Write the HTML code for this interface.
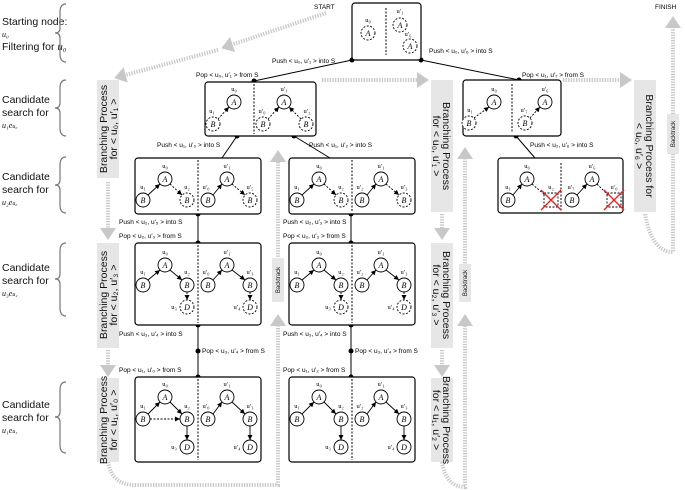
<!DOCTYPE html>
<html><head><meta charset="utf-8"><style>
body{margin:0;background:#fff}
svg{display:block;font-family:"Liberation Sans",sans-serif}
.bx{fill:#fff;stroke:#000;stroke-width:1.2}
.n{fill:#fff;stroke:#000;stroke-width:.9}
.d{fill:#fff;stroke:#000;stroke-width:.9;stroke-dasharray:2 1.5}
.l{font-family:"Liberation Serif",serif;font-style:italic;font-size:8px;text-anchor:middle}
.s{font-family:"Liberation Serif",serif;font-size:6.5px;text-anchor:middle}
.t{font-size:6.5px}
.e{stroke:#000;stroke-width:.9;fill:none}
.ed{stroke:#000;stroke-width:.9;fill:none;stroke-dasharray:2 1.5}
.dv{stroke:#000;stroke-width:1;stroke-dasharray:2 1.5}
.g{stroke:#c8c8c8;stroke-width:4;fill:none;stroke-dasharray:1.3 1.3}
.gb{fill:#e6e6e6}
.bt{font-size:10.5px;fill:#111}
.lb{font-size:10.5px;fill:#111}
</style></head><body>
<svg width="685" height="490" viewBox="0 0 685 490" xmlns="http://www.w3.org/2000/svg">
<defs>
<marker id="a" markerWidth="6" markerHeight="6" refX="5" refY="3" orient="auto" markerUnits="userSpaceOnUse"><path d="M0,0.5 L5,3 L0,5.5z" fill="#000"/></marker>
<marker id="ga" markerWidth="4" markerHeight="4" refX="2" refY="2" orient="auto" markerUnits="strokeWidth"><path d="M0,0 L3,2 L0,4z" fill="#c8c8c8"/></marker>
</defs>

<!-- left labels -->
<g class="lb">
<text x="2" y="25">Starting node:</text><text x="2" y="37" font-family="Liberation Serif" font-style="italic" font-size="8">u₀</text><text x="2" y="50">Filtering for <tspan font-family="Liberation Serif" font-style="italic">u₀</tspan></text>
<text x="2" y="103">Candidate</text><text x="2" y="116">search for</text><text x="2" y="128" font-family="Liberation Serif" font-style="italic" font-size="8">u₁e<tspan font-size="6">u₀</tspan></text>
<text x="2" y="180">Candidate</text><text x="2" y="193">search for</text><text x="2" y="205" font-family="Liberation Serif" font-style="italic" font-size="8">u₂e<tspan font-size="6">u₀</tspan></text>
<text x="2" y="271">Candidate</text><text x="2" y="284">search for</text><text x="2" y="296" font-family="Liberation Serif" font-style="italic" font-size="8">u₃e<tspan font-size="6">u₂</tspan></text>
<text x="2" y="408">Candidate</text><text x="2" y="421">search for</text><text x="2" y="433" font-family="Liberation Serif" font-style="italic" font-size="8">u₁e<tspan font-size="6">u₃</tspan></text>
</g>
<g fill="none" stroke="#777" stroke-width="1.2">
<path d="M66,4 Q60,4 60,12 L60,28 Q60,33 55,33 Q60,33 60,38 L60,54 Q60,62 66,62"/>
<path d="M66,80 Q60,80 60,88 L60,103 Q60,108 55,108 Q60,108 60,113 L60,128 Q60,136 66,136"/>
<path d="M66,157 Q60,157 60,165 L60,180 Q60,185 55,185 Q60,185 60,190 L60,205 Q60,213 66,213"/>
<path d="M66,243 Q60,243 60,251 L60,274 Q60,279 55,279 Q60,279 60,284 L60,308 Q60,316 66,316"/>
<path d="M66,382 Q60,382 60,390 L60,412 Q60,417 55,417 Q60,417 60,422 L60,445 Q60,453 66,453"/>
</g>

<!-- grey flow -->
<g class="g">
<path d="M326,13 L225,47" marker-end="url(#ga)"/>
<path d="M218,50 L118,77" marker-end="url(#ga)"/>
<path d="M322,80 L425,80" marker-end="url(#ga)"/>
<path d="M563,80 L628,80" marker-end="url(#ga)"/>
<path d="M108,182 L108,236" marker-end="url(#ga)"/>
<path d="M108,350 L108,373" marker-end="url(#ga)"/>
<path d="M442,214 L442,236" marker-end="url(#ga)"/>
<path d="M442,350 L442,373" marker-end="url(#ga)"/>
<path d="M108,462 Q112,485 135,485 L278,485 L278,318" marker-end="url(#ga)"/>
<path d="M278,262 L278,154" marker-end="url(#ga)"/>
<path d="M442,462 Q446,487 465,487 L465,318" marker-end="url(#ga)"/>
<path d="M465,266 L465,151" marker-end="url(#ga)"/>
<path d="M645,214 Q652,252 673,252 L673,154"/>
<path d="M673,114 L673,20" marker-end="url(#ga)"/>
</g>
<!-- grey bars -->
<rect class="gb" x="97" y="80" width="22" height="98"/>
<rect class="gb" x="97" y="243" width="22" height="105"/>
<rect class="gb" x="97" y="378" width="22" height="84"/>
<rect class="gb" x="431" y="80" width="22" height="132"/>
<rect class="gb" x="431" y="243" width="22" height="105"/>
<rect class="gb" x="431" y="378" width="22" height="84"/>
<rect class="gb" x="634" y="80" width="22" height="132"/>
<rect class="gb" x="272" y="258" width="12" height="44"/>
<rect class="gb" x="459" y="264" width="12" height="38"/>
<rect class="gb" x="667" y="114" width="12" height="40"/>
<g class="bt">
<text transform="translate(107,129) rotate(-90)" text-anchor="middle">Branching Process</text>
<text transform="translate(117,129) rotate(-90)" text-anchor="middle">for &lt; u₀, u′₁ &gt;</text>
<text transform="translate(107,295) rotate(-90)" text-anchor="middle">Branching Process</text>
<text transform="translate(117,295) rotate(-90)" text-anchor="middle">for &lt; u₂, u′₃ &gt;</text>
<text transform="translate(107,420) rotate(-90)" text-anchor="middle">Branching Process</text>
<text transform="translate(117,420) rotate(-90)" text-anchor="middle">for &lt; u₁, u′₀ &gt;</text>
<text transform="translate(443,146) rotate(90)" text-anchor="middle">Branching Process</text>
<text transform="translate(433,146) rotate(90)" text-anchor="middle">for &lt; u₀, u′₁ &gt;</text>
<text transform="translate(443,295) rotate(90)" text-anchor="middle">Branching Process</text>
<text transform="translate(433,295) rotate(90)" text-anchor="middle">for &lt; u₂, u′₃ &gt;</text>
<text transform="translate(443,420) rotate(90)" text-anchor="middle">Branching Process</text>
<text transform="translate(433,420) rotate(90)" text-anchor="middle">for &lt; u₁, u′₂ &gt;</text>
<text transform="translate(646,146) rotate(90)" text-anchor="middle">Branching Process for</text>
<text transform="translate(636,146) rotate(90)" text-anchor="middle">&lt; u₀, u′₆ &gt;</text>
</g>
<g font-size="6px" fill="#111" text-anchor="middle">
<text transform="translate(280,280) rotate(-90)">Backtrack</text>
<text transform="translate(467,283) rotate(-90)">Backtrack</text>
<text transform="translate(675,134) rotate(-90)">Backtrack</text>
</g>
<text x="314" y="9" font-size="6.5">START</text>
<text x="655" y="9" font-size="6.5">FINISH</text>

<!-- connectors -->
<g stroke="#000" stroke-width="1" fill="none">
<path d="M352,60 L254,81"/><path d="M421,60 L519,80"/>
<path d="M237,136 L222,158"/><path d="M294,136 L330,158"/>
<path d="M516,136 L535,158"/>
<path d="M198,214 L198,243"/><path d="M351,214 L351,243"/>
<path d="M198,325 L198,377"/><path d="M351,325 L351,377"/>
</g>
<g fill="#000">
<circle cx="352" cy="60" r="2.5"/><circle cx="421" cy="60" r="2.5"/>
<circle cx="254" cy="81" r="2.5"/><circle cx="519" cy="80" r="2.5"/>
<circle cx="237" cy="136" r="2.5"/><circle cx="294" cy="136" r="2.5"/><circle cx="516" cy="136" r="2.5"/>
<circle cx="198" cy="214" r="2.5"/><circle cx="198" cy="243" r="2.5"/>
<circle cx="351" cy="214" r="2.5"/><circle cx="351" cy="243" r="2.5"/>
<circle cx="198" cy="325" r="2.5"/><circle cx="198" cy="351" r="2.5"/><circle cx="198" cy="377" r="2.5"/>
<circle cx="351" cy="325" r="2.5"/><circle cx="351" cy="351" r="2.5"/><circle cx="351" cy="377" r="2.5"/>
</g>
<g class="t">
<text x="272" y="63">Push &lt; u₀, u′₁ &gt; into S</text>
<text x="429" y="53">Push &lt; u₀, u′₆ &gt; into S</text>
<text x="196" y="77">Pop &lt; u₀, u′₁ &gt; from S</text>
<text x="522" y="77">Pop &lt; u₁, u′₇ &gt; from S</text>
<text x="157" y="147">Push &lt; u₁, u′₀ &gt; into S</text>
<text x="309" y="147">Push &lt; u₁, u′₂ &gt; into S</text>
<text x="530" y="147">Push &lt; u₂, u′₆ &gt; into S</text>
<text x="119" y="224">Push &lt; u₂, u′₅ &gt; into S</text>
<text x="119" y="238">Pop &lt; u₂, u′₃ &gt; from S</text>
<text x="283" y="224">Push &lt; u₂, u′₃ &gt; into S</text>
<text x="283" y="238">Pop &lt; u₂, u′₃ &gt; from S</text>
<text x="119" y="336">Push &lt; u₃, u′₄ &gt; into S</text>
<text x="202" y="353">Pop &lt; u₃, u′₄ &gt; from S</text>
<text x="119" y="372">Pop &lt; u₁, u′₀ &gt; from S</text>
<text x="283" y="336">Push &lt; u₃, u′₄ &gt; into S</text>
<text x="355" y="353">Pop &lt; u₃, u′₄ &gt; from S</text>
<text x="283" y="372">Pop &lt; u₁, u′₂ &gt; from S</text>
</g>

<!-- top box -->
<rect class="bx" x="352" y="3" width="69" height="57" rx="3"/>
<line class="dv" x1="386" y1="8" x2="386" y2="55"/>
<circle class="d" cx="368" cy="33" r="7"/><text class="l" x="368" y="36">A</text><text class="s" x="368" y="22">u₀</text>
<circle class="d" cx="400" cy="25" r="7"/><text class="l" x="400" y="28">A</text><text class="s" x="400" y="13">u′₁</text>
<circle class="d" cx="410" cy="46" r="7"/><text class="l" x="410" y="49">A</text><text class="s" x="408" y="36">u′₆</text>

<!-- level2 box1 -->
<rect class="bx" x="205" y="82" width="111" height="54" rx="3"/>
<line class="dv" x1="254" y1="84" x2="254" y2="134"/>
<circle class="n" cx="234" cy="102" r="7"/><text class="l" x="234" y="105">A</text><text class="s" x="234" y="91">u₀</text>
<circle class="d" cx="213" cy="124" r="7"/><text class="l" x="213" y="127">B</text><text class="s" x="212" y="113">u₁</text>
<path class="ed" d="M218,119 L229,107" marker-end="url(#a)"/>
<circle class="n" cx="284" cy="102" r="7"/><text class="l" x="284" y="105">A</text><text class="s" x="284" y="91">u′₁</text>
<circle class="d" cx="263" cy="124" r="7"/><text class="l" x="263" y="127">B</text><text class="s" x="262" y="113">u′₀</text>
<circle class="d" cx="306" cy="124" r="7"/><text class="l" x="306" y="127">B</text><text class="s" x="307" y="113">u′₂</text>
<path class="ed" d="M268,119 L279,107" marker-end="url(#a)"/>
<path class="ed" d="M301,119 L289,107" marker-end="url(#a)"/>

<!-- level2 box2 -->
<rect class="bx" x="463" y="80" width="98" height="56" rx="3"/>
<line class="dv" x1="512" y1="84" x2="512" y2="133"/>
<circle class="n" cx="494" cy="102" r="7"/><text class="l" x="494" y="105">A</text><text class="s" x="494" y="91">u₀</text>
<circle class="d" cx="469" cy="123" r="7"/><text class="l" x="469" y="126">B</text><text class="s" x="470" y="112">u₁</text>
<path class="ed" d="M474,118 L489,107" marker-end="url(#a)"/>
<circle class="n" cx="545" cy="102" r="7"/><text class="l" x="545" y="105">A</text><text class="s" x="545" y="91">u′₆</text>
<circle class="d" cx="525" cy="123" r="7"/><text class="l" x="525" y="126">B</text><text class="s" x="524" y="112">u′₇</text>
<path class="ed" d="M530,118 L540,107" marker-end="url(#a)"/>

<!-- level3 box a -->
<rect class="bx" x="135" y="158" width="126" height="56" rx="3"/>
<line class="dv" x1="198" y1="160" x2="198" y2="212"/>
<circle class="n" cx="165" cy="179" r="7"/><text class="l" x="165" y="182">A</text><text class="s" x="165" y="168">u₀</text>
<circle class="n" cx="143" cy="200" r="7"/><text class="l" x="143" y="203">B</text><text class="s" x="143" y="189">u₁</text>
<circle class="d" cx="187" cy="200" r="7"/><text class="l" x="187" y="203">B</text><text class="s" x="187" y="189">u₂</text>
<path class="e" d="M148,195 L160,184" marker-end="url(#a)"/><path class="ed" d="M170,184 L182,195" marker-end="url(#a)"/>
<circle class="n" cx="227" cy="179" r="7"/><text class="l" x="227" y="182">A</text><text class="s" x="227" y="168">u′₁</text>
<circle class="n" cx="208" cy="200" r="7"/><text class="l" x="208" y="203">B</text><text class="s" x="206" y="189">u′₀</text>
<circle class="d" cx="250" cy="200" r="7"/><text class="l" x="250" y="203">B</text><text class="s" x="250" y="189">u′₅</text>
<path class="e" d="M213,195 L222,184" marker-end="url(#a)"/><path class="ed" d="M232,184 L245,195" marker-end="url(#a)"/>

<!-- level3 box b -->
<rect class="bx" x="289" y="158" width="126" height="56" rx="3"/>
<line class="dv" x1="352" y1="160" x2="352" y2="212"/>
<circle class="n" cx="319" cy="179" r="7"/><text class="l" x="319" y="182">A</text><text class="s" x="319" y="168">u₀</text>
<circle class="n" cx="297" cy="200" r="7"/><text class="l" x="297" y="203">B</text><text class="s" x="297" y="189">u₁</text>
<circle class="d" cx="341" cy="200" r="7"/><text class="l" x="341" y="203">B</text><text class="s" x="341" y="189">u₂</text>
<path class="e" d="M302,195 L314,184" marker-end="url(#a)"/><path class="ed" d="M324,184 L336,195" marker-end="url(#a)"/>
<circle class="n" cx="381" cy="179" r="7"/><text class="l" x="381" y="182">A</text><text class="s" x="381" y="168">u′₁</text>
<circle class="n" cx="362" cy="200" r="7"/><text class="l" x="362" y="203">B</text><text class="s" x="360" y="189">u′₂</text>
<circle class="d" cx="404" cy="200" r="7"/><text class="l" x="404" y="203">B</text><text class="s" x="404" y="189">u′₃</text>
<path class="e" d="M367,195 L376,184" marker-end="url(#a)"/><path class="ed" d="M386,184 L399,195" marker-end="url(#a)"/>

<!-- level3 box c -->
<rect class="bx" x="498" y="158" width="125" height="55" rx="3"/>
<line class="dv" x1="561" y1="163" x2="561" y2="211"/>
<circle class="n" cx="527" cy="179" r="7"/><text class="l" x="527" y="182">A</text><text class="s" x="527" y="168">u₀</text>
<circle class="n" cx="508" cy="200" r="7"/><text class="l" x="508" y="203">B</text><text class="s" x="508" y="189">u₁</text>
<rect class="d" x="544" y="193" width="14" height="14"/><text class="s" x="551" y="189">u₂</text>
<path class="e" d="M513,195 L522,184" marker-end="url(#a)"/><path class="ed" d="M532,184 L545,195"/>
<path d="M541,190 L561,210 M561,190 L541,210" stroke="#e82020" stroke-width="1.3"/>
<circle class="n" cx="592" cy="179" r="7"/><text class="l" x="592" y="182">A</text><text class="s" x="592" y="168">u′₆</text>
<circle class="n" cx="572" cy="200" r="7"/><text class="l" x="572" y="203">B</text><text class="s" x="571" y="189">u′₇</text>
<rect class="d" x="607" y="193" width="14" height="14"/><text class="s" x="614" y="189">u′₀</text>
<path class="e" d="M577,195 L587,184" marker-end="url(#a)"/><path class="ed" d="M597,184 L608,195"/>
<path d="M604,190 L624,210 M624,190 L604,210" stroke="#e82020" stroke-width="1.3"/>

<!-- level4 box a -->
<rect class="bx" x="135" y="243" width="126" height="82" rx="3"/>
<line class="dv" x1="198" y1="245" x2="198" y2="323"/>
<circle class="n" cx="165" cy="265" r="7"/><text class="l" x="165" y="268">A</text><text class="s" x="165" y="254">u₀</text>
<circle class="n" cx="143" cy="285" r="7"/><text class="l" x="143" y="288">B</text><text class="s" x="143" y="274">u₁</text>
<circle class="n" cx="187" cy="285" r="7"/><text class="l" x="187" y="288">B</text><text class="s" x="187" y="274">u₂</text>
<circle class="d" cx="187" cy="307" r="7"/><text class="l" x="187" y="310">D</text><text class="s" x="174" y="309">u₃</text>
<path class="e" d="M148,280 L160,270" marker-end="url(#a)"/><path class="e" d="M170,270 L182,280" marker-end="url(#a)"/><path class="ed" d="M187,292 L187,300" marker-end="url(#a)"/>
<circle class="n" cx="227" cy="265" r="7"/><text class="l" x="227" y="268">A</text><text class="s" x="227" y="254">u′₁</text>
<circle class="n" cx="208" cy="285" r="7"/><text class="l" x="208" y="288">B</text><text class="s" x="206" y="274">u′₀</text>
<circle class="n" cx="250" cy="285" r="7"/><text class="l" x="250" y="288">B</text><text class="s" x="250" y="274">u′₃</text>
<circle class="d" cx="250" cy="307" r="7"/><text class="l" x="250" y="310">D</text><text class="s" x="237" y="309">u′₄</text>
<path class="e" d="M213,280 L222,270" marker-end="url(#a)"/><path class="e" d="M232,270 L245,280" marker-end="url(#a)"/><path class="ed" d="M250,292 L250,300" marker-end="url(#a)"/>

<!-- level4 box b -->
<rect class="bx" x="289" y="243" width="126" height="82" rx="3"/>
<line class="dv" x1="352" y1="245" x2="352" y2="323"/>
<circle class="n" cx="319" cy="265" r="7"/><text class="l" x="319" y="268">A</text><text class="s" x="319" y="254">u₀</text>
<circle class="n" cx="297" cy="285" r="7"/><text class="l" x="297" y="288">B</text><text class="s" x="297" y="274">u₁</text>
<circle class="n" cx="341" cy="285" r="7"/><text class="l" x="341" y="288">B</text><text class="s" x="341" y="274">u₂</text>
<circle class="d" cx="341" cy="307" r="7"/><text class="l" x="341" y="310">D</text><text class="s" x="328" y="309">u₃</text>
<path class="e" d="M302,280 L314,270" marker-end="url(#a)"/><path class="e" d="M324,270 L336,280" marker-end="url(#a)"/><path class="ed" d="M341,292 L341,300" marker-end="url(#a)"/>
<circle class="n" cx="381" cy="265" r="7"/><text class="l" x="381" y="268">A</text><text class="s" x="381" y="254">u′₁</text>
<circle class="n" cx="362" cy="285" r="7"/><text class="l" x="362" y="288">B</text><text class="s" x="360" y="274">u′₂</text>
<circle class="n" cx="404" cy="285" r="7"/><text class="l" x="404" y="288">B</text><text class="s" x="404" y="274">u′₃</text>
<circle class="d" cx="404" cy="307" r="7"/><text class="l" x="404" y="310">D</text><text class="s" x="391" y="309">u′₄</text>
<path class="e" d="M367,280 L376,270" marker-end="url(#a)"/><path class="e" d="M386,270 L399,280" marker-end="url(#a)"/><path class="ed" d="M404,292 L404,300" marker-end="url(#a)"/>

<!-- level5 box a -->
<rect class="bx" x="135" y="377" width="126" height="85" rx="3"/>
<line class="dv" x1="198" y1="379" x2="198" y2="460"/>
<circle class="n" cx="165" cy="397" r="7"/><text class="l" x="165" y="400">A</text><text class="s" x="165" y="386">u₀</text>
<circle class="n" cx="143" cy="419" r="7"/><text class="l" x="143" y="422">B</text><text class="s" x="143" y="408">u₁</text>
<circle class="n" cx="187" cy="419" r="7"/><text class="l" x="187" y="422">B</text><text class="s" x="187" y="408">u₂</text>
<circle class="n" cx="187" cy="447" r="7"/><text class="l" x="187" y="450">D</text><text class="s" x="174" y="449">u₃</text>
<path class="e" d="M148,414 L160,402" marker-end="url(#a)"/><path class="e" d="M170,402 L182,414" marker-end="url(#a)"/><path class="e" d="M187,426 L187,440" marker-end="url(#a)"/>
<path class="ed" d="M150,419 L180,419" marker-end="url(#a)"/>
<circle class="n" cx="227" cy="397" r="7"/><text class="l" x="227" y="400">A</text><text class="s" x="227" y="386">u′₁</text>
<circle class="n" cx="208" cy="419" r="7"/><text class="l" x="208" y="422">B</text><text class="s" x="206" y="408">u′₀</text>
<circle class="n" cx="250" cy="419" r="7"/><text class="l" x="250" y="422">B</text><text class="s" x="250" y="408">u′₃</text>
<circle class="n" cx="250" cy="447" r="7"/><text class="l" x="250" y="450">D</text><text class="s" x="237" y="449">u′₄</text>
<path class="e" d="M213,414 L222,402" marker-end="url(#a)"/><path class="e" d="M232,402 L245,414" marker-end="url(#a)"/><path class="e" d="M250,426 L250,440" marker-end="url(#a)"/>

<!-- level5 box b -->
<rect class="bx" x="289" y="377" width="126" height="85" rx="3"/>
<line class="dv" x1="352" y1="379" x2="352" y2="460"/>
<circle class="n" cx="319" cy="397" r="7"/><text class="l" x="319" y="400">A</text><text class="s" x="319" y="386">u₀</text>
<circle class="n" cx="297" cy="419" r="7"/><text class="l" x="297" y="422">B</text><text class="s" x="297" y="408">u₁</text>
<circle class="n" cx="341" cy="419" r="7"/><text class="l" x="341" y="422">B</text><text class="s" x="341" y="408">u₂</text>
<circle class="n" cx="341" cy="447" r="7"/><text class="l" x="341" y="450">D</text><text class="s" x="328" y="449">u₃</text>
<path class="e" d="M302,414 L314,402" marker-end="url(#a)"/><path class="e" d="M324,402 L336,414" marker-end="url(#a)"/><path class="e" d="M341,426 L341,440" marker-end="url(#a)"/>
<circle class="n" cx="381" cy="397" r="7"/><text class="l" x="381" y="400">A</text><text class="s" x="381" y="386">u′₁</text>
<circle class="n" cx="362" cy="419" r="7"/><text class="l" x="362" y="422">B</text><text class="s" x="360" y="408">u′₂</text>
<circle class="n" cx="404" cy="419" r="7"/><text class="l" x="404" y="422">B</text><text class="s" x="404" y="408">u′₃</text>
<circle class="n" cx="404" cy="447" r="7"/><text class="l" x="404" y="450">D</text><text class="s" x="391" y="449">u′₄</text>
<path class="e" d="M367,414 L376,402" marker-end="url(#a)"/><path class="e" d="M386,402 L399,414" marker-end="url(#a)"/><path class="e" d="M404,426 L404,440" marker-end="url(#a)"/>
</svg>
</body></html>
